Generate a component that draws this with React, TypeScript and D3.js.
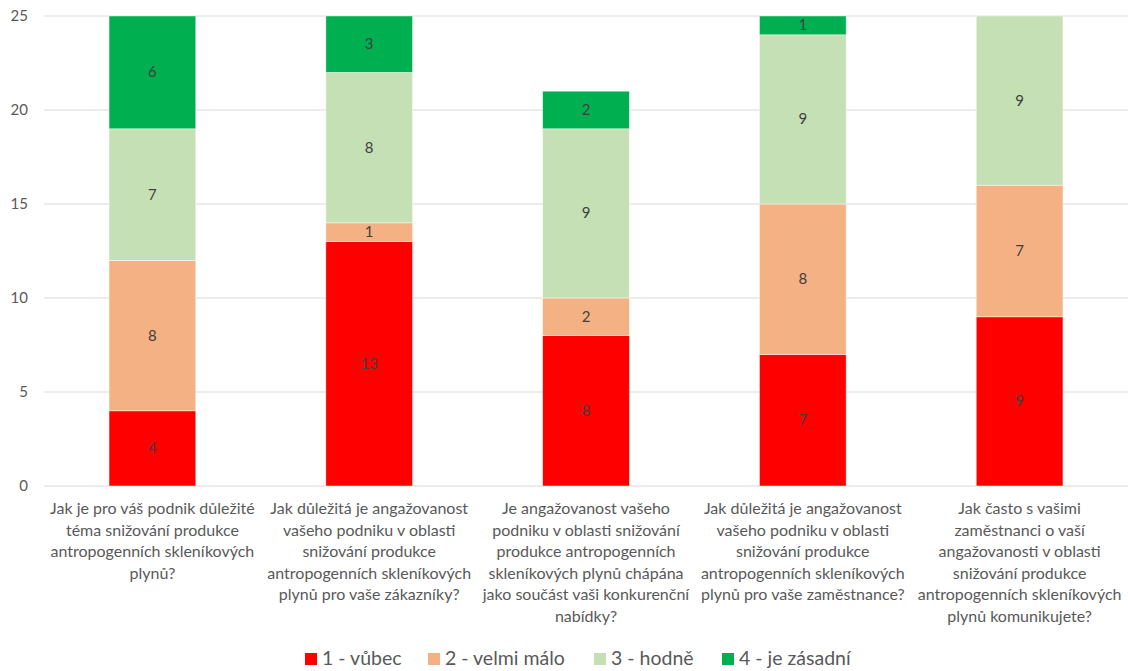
import React, { useEffect, useRef } from "react";
import * as d3 from "d3";

// question labels, already broken into lines as in the source chart
const categories = [
  ["Jak je pro váš podnik důležité", "téma snižování produkce", "antropogenních skleníkových", "plynů?"],
  ["Jak důležitá je angažovanost", "vašeho podniku v oblasti", "snižování produkce", "antropogenních skleníkových", "plynů pro vaše zákazníky?"],
  ["Je angažovanost vašeho", "podniku v oblasti snižování", "produkce antropogenních", "skleníkových plynů chápána", "jako součást vaši konkurenční", "nabídky?"],
  ["Jak důležitá je angažovanost", "vašeho podniku v oblasti", "snižování produkce", "antropogenních skleníkových", "plynů pro vaše zaměstnance?"],
  ["Jak často s vašimi", "zaměstnanci o vaší", "angažovanosti v oblasti", "snižování produkce", "antropogenních skleníkových", "plynů komunikujete?"],
];

const seriesNames = ["1 - vůbec", "2 - velmi málo", "3 - hodně", "4 - je zásadní"];
const seriesColors = ["#ff0000", "#f4b183", "#c5e0b4", "#00b050"];

const vubec = [4, 13, 8, 7, 9];
const velmiMalo = [8, 1, 2, 8, 7];
const hodne = [7, 8, 9, 9, 9];
const zasadni = [6, 3, 2, 1, 0];

const yTicks = [0, 5, 10, 15, 20, 25];

const W = 1128;
const H = 671;
const margin = { top: 16, right: 0, bottom: 185, left: 44 };
const font = "Lato, 'Open Sans', sans-serif";

const App: React.FC = () => {
  const svgRef = useRef<SVGSVGElement | null>(null);

  useEffect(() => {
    if (!svgRef.current) return;
    const root = d3.select(svgRef.current);
    root.selectAll("*").remove();

    const rows = categories.map((_, i) => ({
      i,
      s0: vubec[i],
      s1: velmiMalo[i],
      s2: hodne[i],
      s3: zasadni[i],
    }));
    const keys = ["s0", "s1", "s2", "s3"];

    const x = d3
      .scaleBand<number>()
      .domain(categories.map((_, i) => i))
      .range([margin.left, W - margin.right])
      .paddingInner(0.6)
      .paddingOuter(0.3);

    const y = d3.scaleLinear().domain([0, 25]).range([H - margin.bottom, margin.top]);

    // gridlines
    root
      .append("g")
      .selectAll("line")
      .data(yTicks)
      .enter()
      .append("line")
      .attr("x1", margin.left)
      .attr("x2", W - margin.right)
      .attr("y1", (d) => y(d))
      .attr("y2", (d) => y(d))
      .attr("stroke", "#d9d9d9")
      .attr("stroke-width", 1);

    // y tick labels
    root
      .append("g")
      .selectAll("text")
      .data(yTicks)
      .enter()
      .append("text")
      .attr("x", 28)
      .attr("y", (d) => y(d) + 5)
      .attr("text-anchor", "end")
      .attr("font-family", font)
      .attr("font-size", 15)
      .attr("fill", "#595959")
      .text((d) => d);

    const stacked = d3.stack<any>().keys(keys)(rows);

    const layer = root
      .append("g")
      .selectAll("g")
      .data(stacked)
      .enter()
      .append("g")
      .attr("fill", (_, k) => seriesColors[k]);

    layer
      .selectAll("rect")
      .data((d) => d.filter((p) => p[1] - p[0] > 0))
      .enter()
      .append("rect")
      .attr("x", (d) => x(d.data.i)!)
      .attr("width", x.bandwidth())
      .attr("y", (d) => y(d[1]))
      .attr("height", (d) => y(d[0]) - y(d[1]))
      .attr("stroke", "#ffffff")
      .attr("stroke-opacity", 0.6)
      .attr("stroke-width", 0.75);

    layer
      .selectAll("text")
      .data((d) => d.filter((p) => p[1] - p[0] > 0))
      .enter()
      .append("text")
      .attr("x", (d) => x(d.data.i)! + x.bandwidth() / 2)
      .attr("y", (d) => (y(d[0]) + y(d[1])) / 2 + 5)
      .attr("text-anchor", "middle")
      .attr("font-family", font)
      .attr("font-size", 15)
      .attr("fill", "#404040")
      .text((d) => d[1] - d[0]);

    // category labels
    const cat = root
      .append("g")
      .selectAll("text")
      .data(categories)
      .enter()
      .append("text")
      .attr("text-anchor", "middle")
      .attr("font-family", font)
      .attr("font-size", 16)
      .attr("fill", "#595959");

    cat
      .selectAll("tspan")
      .data((lines, i) => lines.map((l) => ({ l, i })))
      .enter()
      .append("tspan")
      .attr("x", (d) => x(d.i)! + x.bandwidth() / 2)
      .attr("y", (_, j) => 514 + j * 21.5)
      .text((d) => d.l);

    // legend
    const legendX = [305, 428, 594, 722];
    const lg = root
      .append("g")
      .selectAll("g")
      .data(seriesNames)
      .enter()
      .append("g")
      .attr("transform", (_, k) => `translate(${legendX[k]},653)`);
    lg.append("rect")
      .attr("width", 12)
      .attr("height", 12)
      .attr("fill", (_, k) => seriesColors[k]);
    lg.append("text")
      .attr("x", 17)
      .attr("y", 12)
      .attr("font-family", font)
      .attr("font-size", 19.5)
      .attr("fill", "#595959")
      .text((d) => d);
  }, []);

  return (
    <svg
      ref={svgRef}
      width={W}
      height={H}
      style={{ position: "absolute", left: 0, top: 0, background: "#fff" }}
    />
  );
};

export default App;
